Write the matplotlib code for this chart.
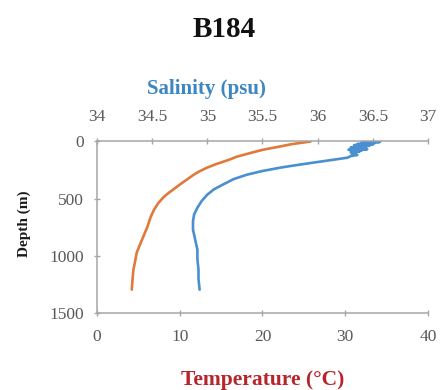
import matplotlib
matplotlib.use("Agg")
import matplotlib.pyplot as plt

# Temperature profile (orange)
temp_depth = [3, 25, 48, 74, 100, 135, 161, 200, 231, 266, 292, 353, 379, 449,
              484, 540, 597, 658, 745, 832, 900, 972, 1050, 1120, 1200, 1295]
temp_values = [25.8, 23.6, 22.0, 20.1, 18.7, 16.9, 16.0, 14.4, 13.3, 12.3, 11.7,
               10.5, 10.0, 8.7, 8.1, 7.4, 6.9, 6.5, 6.1, 5.6, 5.2, 4.8, 4.6, 4.4,
               4.3, 4.2]

# Salinity profile (blue)
sal_depth = [0, 4, 8, 12, 16, 20, 25, 30, 35, 40, 45, 50, 55, 60, 65, 70, 75, 80,
             85, 90, 95, 100, 110, 120, 130, 144, 165, 187, 210, 231, 260, 292,
             330, 379, 420, 466, 520, 580, 640, 700, 771, 860, 946, 1030, 1120,
             1200, 1295]
sal_values = [36.57, 36.50, 36.56, 36.40, 36.52, 36.45, 36.36, 36.50, 36.33, 36.47,
              36.38, 36.44, 36.30, 36.42, 36.34, 36.45, 36.28, 36.40, 36.32, 36.38,
              36.30, 36.35, 36.31, 36.36, 36.30, 36.27, 36.12, 35.96, 35.80, 35.66,
              35.50, 35.36, 35.24, 35.14, 35.06, 35.00, 34.95, 34.91, 34.88, 34.87,
              34.87, 34.89, 34.91, 34.91, 34.92, 34.92, 34.93]

temp_ticks = [0, 10, 20, 30, 40]
sal_ticks = [34, 34.5, 35, 35.5, 36, 36.5, 37]
sal_tick_labels = ["34", "34.5", "35", "35.5", "36", "36.5", "37"]
depth_ticks = [0, 500, 1000, 1500]

SERIF = ["Liberation Serif", "DejaVu Serif"]
AXIS_GREY = "#A6A6A6"
LABEL_GREY = "#595959"
ORANGE = "#E0793A"
BLUE = "#4A8FCF"

fig = plt.figure(figsize=(4.43, 3.90), dpi=100)
ax = fig.add_axes([0.219, 0.197, 0.747, 0.441])
ax2 = ax.twiny()

ax.plot(temp_values, temp_depth, color=ORANGE, lw=1.9, solid_capstyle="round",
        solid_joinstyle="round")
ax2.plot(sal_values, sal_depth, color=BLUE, lw=1.9, solid_capstyle="round",
         solid_joinstyle="round")

ax.set_xlim(0, 40)
ax2.set_xlim(34, 37)
ax.set_ylim(1500, 0)

ax.set_xticks(temp_ticks)
ax.set_yticks(depth_ticks)
ax2.set_xticks(sal_ticks)
ax2.set_xticklabels(sal_tick_labels)

for a in (ax, ax2):
    for side in ("left", "right", "top", "bottom"):
        a.spines[side].set_visible(False)
ax.spines["left"].set_visible(True)
ax.spines["bottom"].set_visible(True)
ax2.spines["top"].set_visible(True)
for a, side in ((ax, "left"), (ax, "bottom"), (ax2, "top")):
    a.spines[side].set_color(AXIS_GREY)
    a.spines[side].set_linewidth(1.1)

for a in (ax, ax2):
    a.tick_params(direction="inout", length=5, width=1.0, color=AXIS_GREY,
                  labelcolor=LABEL_GREY, labelsize=12.5, pad=9)
    for lab in a.get_xticklabels() + a.get_yticklabels():
        lab.set_family(SERIF)
ax.tick_params(axis="y", pad=7)
ax2.tick_params(axis="x", pad=9)

ax.set_ylabel("Depth (m)", family=SERIF, fontweight="bold", fontsize=11,
              color="#1a1a1a", labelpad=6)
ax.yaxis.set_label_coords(-0.2, 0.52)

fig.text(0.506, 0.925, "B184", ha="center", va="center", family=SERIF,
         fontweight="bold", fontsize=21, color="#111111")
fig.text(0.467, 0.772, "Salinity (psu)", ha="center", va="center", family=SERIF,
         fontweight="bold", fontsize=15, color="#3C86C2")
fig.text(0.592, 0.025, "Temperature (\u00b0C)", ha="center", va="center",
         family=SERIF, fontweight="bold", fontsize=15.5, color="#B8242B")

fig.savefig("out.png", dpi=100)
